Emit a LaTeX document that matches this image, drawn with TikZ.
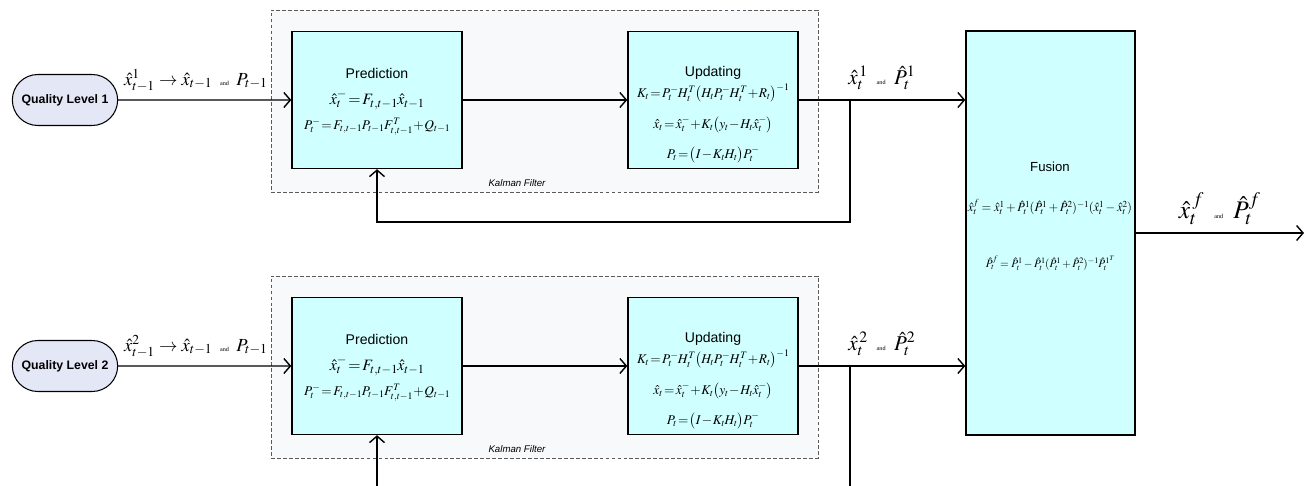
\documentclass[tikz,border=0pt]{standalone}
\usepackage{mathptmx}
\usepackage{fontspec}
\setmainfont{Liberation Serif}
\setsansfont{Liberation Sans}
\usetikzlibrary{arrows.meta,shapes.misc,calc}

\definecolor{boxcyan}{RGB}{208,255,255}
\definecolor{kfgray}{RGB}{248,249,251}
\definecolor{qlblue}{RGB}{228,231,245}
\definecolor{dashgray}{RGB}{90,90,90}

% tiny "and" between the estimates
\newcommand{\andword}{\hspace{0.4em}{\fontsize{3.5}{4}\selectfont and}\hspace{0.4em}}
\newcommand{\eqfont}{\fontsize{7.6}{9}\selectfont\thickmuskip=2mu\medmuskip=1mu\scriptspace=0pt\relax}
\newcommand{\fusfont}{\fontsize{7.1}{8}\selectfont\scriptspace=0pt\relax}

\begin{document}
\begin{tikzpicture}[x=0.2mm,y=-0.2mm,
  flow/.style={line width=0.8pt,-{Straight Barb[length=1.3mm,width=3mm]}},
  stage/.style={draw,line width=0.8pt,fill=boxcyan,minimum width=34mm,minimum height=27.4mm},
  source/.style={rounded rectangle,draw,line width=0.6pt,fill=qlblue,
    minimum width=23.4mm,minimum height=10.2mm,font=\sffamily\bfseries\fontsize{7}{8}\selectfont},
  filterbox/.style={draw=dashgray,dash pattern=on 2.2pt off 1.2pt,line width=0.5pt,fill=kfgray,
    minimum width=109.4mm,minimum height=36.4mm},
  title/.style={font=\sffamily\fontsize{8}{9}\selectfont},
  eq/.style={font=\eqfont,inner sep=0pt},
  tinyeq/.style={font=\fusfont,inner sep=0pt}]

  \clip (0,0) rectangle (1306,486);

  % fusion of both filter outputs
  \node[stage,minimum width=33.8mm,minimum height=80.8mm] (fus) at (1050.5,233) {};
  \node[title,font=\sffamily\fontsize{7.5}{9}\selectfont] (fustitle) at (1050,167) {Fusion};
  \node[tinyeq] (fusx) at (1050,207)
    {$\hat{x}_t^f = \hat{x}_t^1 + \hat{P}_t^1(\hat{P}_t^1 + \hat{P}_t^2)^{-1}(\hat{x}_t^1 - \hat{x}_t^2)$};
  \node[tinyeq,font=\fusfont\fontsize{6.4}{7.5}\selectfont] (fusP) at (1050,263)
    {$\hat{P}_t^f = \hat{P}_t^1 - \hat{P}_t^1(\hat{P}_t^1 + \hat{P}_t^2)^{-1}\hat{P}_t^{1^T}$};
  \coordinate (fusout) at (1304,233);
  \draw[flow] (fus) -- node[above=1pt,font=\Large] (fuslabel)
    {$\hat{x}_t^{\,f}$\andword$\hat{P}_t^{f}$} (fusout);

  % one Kalman filter per quality level
  \foreach \i/\dy in {1/0,2/266}{
    \begin{scope}[shift={(0,\dy)}]
      \node[filterbox] (kf\i) at (544.5,101) {};
      \node[font=\sffamily\itshape\fontsize{5.5}{6}\selectfont] (kflabel\i) at (517,183) {Kalman Filter};
      \node[source] (ql\i) at (65,100) {Quality Level \i};

      \node[stage] (pred\i) at (377,100) {};
      \node[title] (predtitle\i) at (377,73) {Prediction};
      \node[eq,font=\eqfont\fontsize{9}{11}\selectfont] (predx\i) at (377,100)
        {$\hat{x}_t^- = F_{t,t-1}\hat{x}_{t-1}$};
      \node[eq] (predP\i) at (377,127) {$P_t^- = F_{t,t-1}P_{t-1}F_{t,t-1}^T + Q_{t-1}$};

      \node[stage] (upd\i) at (713,100) {};
      \node[title] (updtitle\i) at (713,73) {Updating};
      \node[eq] (updK\i) at (713,93) {$K_t = P_t^-H_t^T\bigl(H_tP_t^-H_t^T + R_t\bigr)^{-1}$};
      \node[eq] (updx\i) at (713,125) {$\hat{x}_t = \hat{x}_t^- + K_t\bigl(y_t - H_t\hat{x}_t^-\bigr)$};
      \node[eq] (updP\i) at (713,155) {$P_t = \bigl(I - K_tH_t\bigr)P_t^-$};

      \coordinate (tap\i) at (850,100);
      \draw[flow] (ql\i) -- node[above=1pt,pos=0.45,font=\fontsize{10.5}{12}\selectfont] (inlabel\i)
        {$\hat{x}_{t-1}^{\i}\rightarrow\hat{x}_{t-1}$\andword$P_{t-1}$} (pred\i);
      \draw[flow] (pred\i) -- (upd\i);
      \draw[flow] (upd\i) -- node[above=2pt,font=\large] (outlabel\i)
        {$\hat{x}_t^{\,\i}$\andword$\hat{P}_t^{\i}$} (upd\i -| fus.west);
      % feedback of the estimate into the next prediction
      \draw[flow] (tap\i) -- ++(0,122) -| (pred\i.south);
    \end{scope}
  }
\end{tikzpicture}
\end{document}
